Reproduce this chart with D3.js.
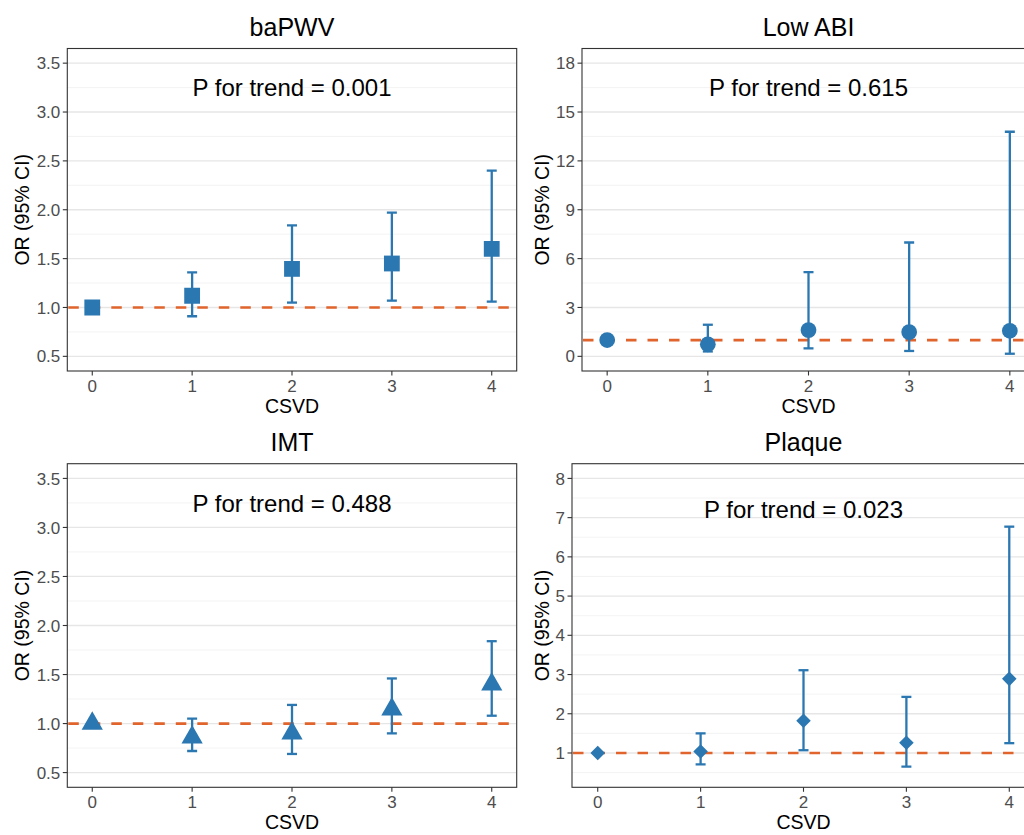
<!DOCTYPE html>
<html>
<head>
<meta charset="utf-8">
<script src="https://cdn.jsdelivr.net/npm/d3@7"></script>
<style>
  html, body { margin: 0; padding: 0; background: #fff; }
  svg { display: block; font-family: "Liberation Sans", Arial, sans-serif; }
</style>
</head>
<body>
<svg id="chart" width="1024" height="835"></svg>
<script>
// ---------- data ----------
const categories = [0, 1, 2, 3, 4];

const panelTitles = ["baPWV", "Low ABI", "IMT", "Plaque"];
const trendLabels = ["P for trend = 0.001", "P for trend = 0.615", "P for trend = 0.488", "P for trend = 0.023"];

const baPWV_or = [1.00, 1.12, 1.395, 1.45, 1.60];
const baPWV_lo = [null, 0.91, 1.05, 1.07, 1.06];
const baPWV_hi = [null, 1.36, 1.84, 1.97, 2.40];

const lowABI_or = [1.00, 0.74, 1.61, 1.49, 1.57];
const lowABI_lo = [null, 0.30, 0.49, 0.33, 0.16];
const lowABI_hi = [null, 1.94, 5.17, 6.99, 13.79];

const IMT_or = [1.00, 0.86, 0.90, 1.145, 1.40];
const IMT_lo = [null, 0.72, 0.69, 0.90, 1.08];
const IMT_hi = [null, 1.05, 1.19, 1.46, 1.84];

const plaque_or = [1.00, 1.04, 1.82, 1.26, 2.89];
const plaque_lo = [null, 0.71, 1.07, 0.65, 1.25];
const plaque_hi = [null, 1.50, 3.11, 2.43, 6.77];

const baPWV_ticks = [0.5, 1.0, 1.5, 2.0, 2.5, 3.0, 3.5];
const lowABI_ticks = [0, 3, 6, 9, 12, 15, 18];
const IMT_ticks = [0.5, 1.0, 1.5, 2.0, 2.5, 3.0, 3.5];
const plaque_ticks = [1, 2, 3, 4, 5, 6, 7, 8];

const yLimits = [[0.5, 3.5], [0, 18], [0.5, 3.5], [0.5, 8]];
const trendY = [3.25, 16.5, 3.25, 7.2];
const refValue = 1;

const xLabel = "CSVD";
const yLabel = "OR (95% CI)";

// ---------- layout / style ----------
const BLUE = "#2b77b1";
const ORANGE = "#e0642c";
const layouts = [
  { left: 67.3, right: 516.7, top: 48.5, bottom: 371, ytitleX: 21.7, symbol: "square" },
  { left: 582,  right: 1035,  top: 48.5, bottom: 371, ytitleX: 541.7, symbol: "circle" },
  { left: 67.3, right: 516.7, top: 463.7, bottom: 787.3, ytitleX: 21.7, symbol: "triangle" },
  { left: 572,  right: 1035,  top: 463.7, bottom: 787.3, ytitleX: 541.7, symbol: "diamond" }
];
const tickSets = [baPWV_ticks, lowABI_ticks, IMT_ticks, plaque_ticks];
const ors = [baPWV_or, lowABI_or, IMT_or, plaque_or];
const los = [baPWV_lo, lowABI_lo, IMT_lo, plaque_lo];
const his = [baPWV_hi, lowABI_hi, IMT_hi, plaque_hi];
const fmt = [d3.format(".1f"), d3.format("d"), d3.format(".1f"), d3.format("d")];

const svg = d3.select("#chart");

layouts.forEach((L, i) => {
  const g = svg.append("g");
  const x = d3.scaleLinear().domain([-0.25, 4.25]).range([L.left, L.right]);
  const [lo, hi] = yLimits[i];
  const pad = (hi - lo) * 0.05;
  const y = d3.scaleLinear().domain([lo - pad, hi + pad]).range([L.bottom, L.top]);

  const clipId = "clip" + i;
  svg.append("clipPath").attr("id", clipId).append("rect")
    .attr("x", L.left).attr("y", L.top).attr("width", L.right - L.left).attr("height", L.bottom - L.top);
  const plot = g.append("g").attr("clip-path", `url(#${clipId})`);

  // minor gridlines
  const ticks = tickSets[i];
  const step = ticks[1] - ticks[0];
  const minor = [];
  for (let v = ticks[0] - step / 2; v <= hi + pad; v += step) if (v >= lo - pad) minor.push(v);
  plot.selectAll(".minor").data(minor).join("line")
    .attr("x1", L.left).attr("x2", L.right)
    .attr("y1", d => y(d)).attr("y2", d => y(d))
    .attr("stroke", "#f0f0f0").attr("stroke-width", 0.8);
  // major gridlines
  plot.selectAll(".major").data(ticks).join("line")
    .attr("x1", L.left).attr("x2", L.right)
    .attr("y1", d => y(d)).attr("y2", d => y(d))
    .attr("stroke", "#e6e6e6").attr("stroke-width", 1.3);

  // reference line
  plot.append("line")
    .attr("x1", L.left).attr("x2", L.right)
    .attr("y1", y(refValue)).attr("y2", y(refValue))
    .attr("stroke", ORANGE).attr("stroke-width", 2.7)
    .attr("stroke-dasharray", "10.5,11").attr("stroke-dashoffset", -1);

  // error bars
  const rows = categories.map((c, k) => ({ c, or: ors[i][k], lo: los[i][k], hi: his[i][k] }))
  const eb = rows.filter(r => r.lo != null);
  const cap = 5;
  plot.selectAll(".ebv").data(eb).join("line")
    .attr("x1", d => x(d.c)).attr("x2", d => x(d.c))
    .attr("y1", d => y(d.lo)).attr("y2", d => y(d.hi))
    .attr("stroke", BLUE).attr("stroke-width", 2.3);
  plot.selectAll(".ebh").data(eb).join("line")
    .attr("x1", d => x(d.c) - cap).attr("x2", d => x(d.c) + cap)
    .attr("y1", d => y(d.hi)).attr("y2", d => y(d.hi))
    .attr("stroke", BLUE).attr("stroke-width", 2.3);
  plot.selectAll(".ebl").data(eb).join("line")
    .attr("x1", d => x(d.c) - cap).attr("x2", d => x(d.c) + cap)
    .attr("y1", d => y(d.lo)).attr("y2", d => y(d.lo))
    .attr("stroke", BLUE).attr("stroke-width", 2.3);

  // points
  let sym, rot = 0;
  if (L.symbol === "square") sym = d3.symbol(d3.symbolSquare, 250);
  else if (L.symbol === "circle") sym = d3.symbol(d3.symbolCircle, 195);
  else if (L.symbol === "triangle") sym = d3.symbol(d3.symbolTriangle, 195);
  else { sym = d3.symbol(d3.symbolSquare, 106); rot = 45; }
  plot.selectAll(".pt").data(rows).join("path")
    .attr("d", sym)
    .attr("transform", d => `translate(${x(d.c)},${y(d.or)}) rotate(${rot})`)
    .attr("fill", BLUE);

  // panel border
  g.append("rect")
    .attr("x", L.left).attr("y", L.top)
    .attr("width", L.right - L.left).attr("height", L.bottom - L.top)
    .attr("fill", "none").attr("stroke", "#333").attr("stroke-width", 1.1);

  // axes ticks + labels
  const ya = g.append("g");
  ya.selectAll("line").data(ticks).join("line")
    .attr("x1", L.left - 4.5).attr("x2", L.left)
    .attr("y1", d => y(d)).attr("y2", d => y(d))
    .attr("stroke", "#333").attr("stroke-width", 1.1);
  ya.selectAll("text").data(ticks).join("text")
    .attr("x", L.left - 7).attr("y", d => y(d)).attr("dy", "0.36em")
    .attr("text-anchor", "end").attr("font-size", 17).attr("fill", "#4d4d4d")
    .text(d => fmt[i](d));

  const xa = g.append("g");
  xa.selectAll("line").data(categories).join("line")
    .attr("x1", d => x(d)).attr("x2", d => x(d))
    .attr("y1", L.bottom).attr("y2", L.bottom + 4.5)
    .attr("stroke", "#333").attr("stroke-width", 1.1);
  xa.selectAll("text").data(categories).join("text")
    .attr("x", d => x(d)).attr("y", L.bottom + 21)
    .attr("text-anchor", "middle").attr("font-size", 17).attr("fill", "#4d4d4d")
    .text(d => d);

  // axis titles
  g.append("text")
    .attr("x", (L.left + L.right) / 2).attr("y", L.bottom + 42)
    .attr("text-anchor", "middle").attr("font-size", 19.5).attr("fill", "#000")
    .text(xLabel);
  g.append("text")
    .attr("transform", `translate(${L.ytitleX + 7},${(L.top + L.bottom) / 2}) rotate(-90)`)
    .attr("text-anchor", "middle").attr("font-size", 19.5).attr("fill", "#000")
    .text(yLabel);

  // title
  g.append("text")
    .attr("x", (L.left + L.right) / 2).attr("y", L.top - 12.3)
    .attr("text-anchor", "middle").attr("font-size", 25).attr("fill", "#000")
    .text(panelTitles[i]);

  // trend annotation
  g.append("text")
    .attr("x", x(2)).attr("y", y(trendY[i])).attr("dy", "0.36em")
    .attr("text-anchor", "middle").attr("font-size", 24).attr("fill", "#000")
    .text(trendLabels[i]);
});
</script>
</body>
</html>
